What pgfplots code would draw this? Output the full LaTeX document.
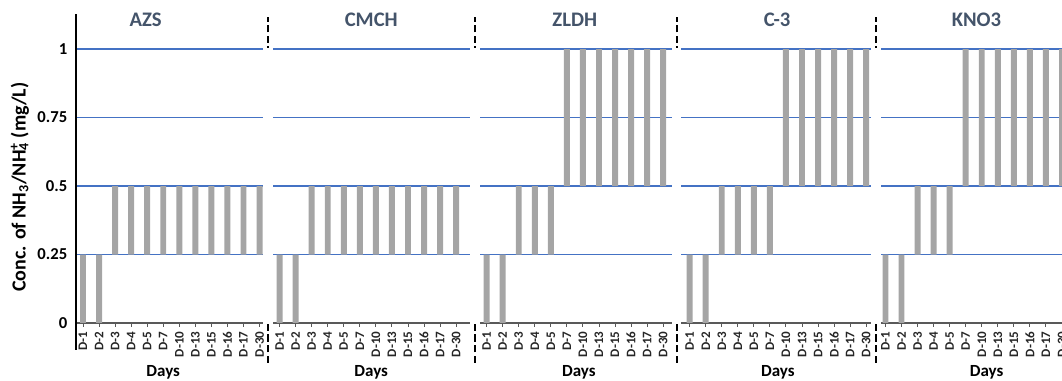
\documentclass[border=0pt]{standalone}
\usepackage{pgfplots}
\pgfplotsset{compat=1.18}
\usepackage{pgfplotstable}
\usepackage{fontspec}
\setmainfont{Carlito}
\definecolor{barg}{HTML}{A5A5A5}
\definecolor{gridb}{HTML}{4472C4}
\definecolor{ttl}{HTML}{44546A}
\definecolor{basel}{HTML}{595959}

\pgfplotstableread{
x lo hi
0 0 0.25
1 0 0.25
2 0.25 0.5
3 0.25 0.5
4 0.25 0.5
5 0.25 0.5
6 0.25 0.5
7 0.25 0.5
8 0.25 0.5
9 0.25 0.5
10 0.25 0.5
11 0.25 0.5
12.25 0 0.25
13.25 0 0.25
14.25 0.25 0.5
15.25 0.25 0.5
16.25 0.25 0.5
17.25 0.25 0.5
18.25 0.25 0.5
19.25 0.25 0.5
20.25 0.25 0.5
21.25 0.25 0.5
22.25 0.25 0.5
23.25 0.25 0.5
25.15 0 0.25
26.15 0 0.25
27.15 0.25 0.5
28.15 0.25 0.5
29.15 0.25 0.5
30.15 0.5 1
31.15 0.5 1
32.15 0.5 1
33.15 0.5 1
34.15 0.5 1
35.15 0.5 1
36.15 0.5 1
37.8 0 0.25
38.8 0 0.25
39.8 0.25 0.5
40.8 0.25 0.5
41.8 0.25 0.5
42.8 0.25 0.5
43.8 0.5 1
44.8 0.5 1
45.8 0.5 1
46.8 0.5 1
47.8 0.5 1
48.8 0.5 1
50 0 0.25
51 0 0.25
52 0.25 0.5
53 0.25 0.5
54 0.25 0.5
55 0.5 1
56 0.5 1
57 0.5 1
58 0.5 1
59 0.5 1
60 0.5 1
61 0.5 1
}\datatable

\begin{document}
\begin{tikzpicture}
\useasboundingbox (-57pt,-43.5pt) rectangle (739.5pt,242.25pt);
\begin{axis}[
  scale only axis, width=739.5pt, height=231.75pt,
  at={(0,0)}, anchor=south west,
  xmin=-0.436, xmax=61.0, ymin=0, ymax=1.128,
  ybar stacked, bar width=0.37,
  clip mode=individual,
  axis x line*=bottom, axis y line*=left,
  x axis line style={basel, line width=0.9pt},
  y axis line style={black, line width=1.1pt},
  xtick=data,
  xticklabels={D-1,D-2,D-3,D-4,D-5,D-7,D-10,D-13,D-15,D-16,D-17,D-30,
               D-1,D-2,D-3,D-4,D-5,D-7,D-10,D-13,D-15,D-16,D-17,D-30,
               D-1,D-2,D-3,D-4,D-5,D-7,D-10,D-13,D-15,D-16,D-17,D-30,
               D-1,D-2,D-3,D-4,D-5,D-7,D-10,D-13,D-15,D-16,D-17,D-30,
               D-1,D-2,D-3,D-4,D-5,D-7,D-10,D-13,D-15,D-16,D-17,D-30},
  xticklabel style={rotate=90, anchor=east, font=\bfseries\fontsize{9.8}{10}\selectfont, text=black!85},
  xtick style={basel, line width=0.7pt},
  tick align=outside, major tick length=3pt,
  ytick={0.25,0.5,0.75,1},
  extra y ticks={0}, extra y tick style={grid=none, tick style={draw=none}},
  ytick style={draw=none},
  ymajorgrids, major grid style={draw=gridb, line width=0.9pt},
  yticklabel style={font=\bfseries\fontsize{12.5}{14}\selectfont},
  /pgf/number format/assume math mode=true,
  ylabel={Conc. of NH\textsubscript{3}/NH\rlap{\textsubscript{4}}\textsuperscript{+} (mg/L)},
  ylabel style={font=\bfseries\fontsize{15}{16}\selectfont, at={(axis description cs:-0.057,0.44)}, anchor=center},
]
\addplot[draw=none, fill=none] table[x=x, y=lo]{\datatable};
\addplot[draw=none, fill=barg] table[x=x, y expr=\thisrow{hi}-\thisrow{lo}]{\datatable};

\pgfplotsinvokeforeach{11.53,24.42,37.0,49.41}{
  \draw[white, line width=7pt] (axis cs:#1,-0.005) -- (axis cs:#1,1.005);
  \draw[black, line width=1.5pt, dash pattern=on 5.5pt off 2.5pt] (axis cs:#1,-0.146) -- (axis cs:#1,1.117);
}
\draw[black, line width=1.1pt] (axis cs:-0.436,0) -- (axis cs:-0.436,-0.099);

\node[font=\bfseries\fontsize{15.5}{16}\selectfont, text=ttl] at (axis cs:3.9,1.106) {AZS};
\node[font=\bfseries\fontsize{15.5}{16}\selectfont, text=ttl] at (axis cs:17.96,1.106) {CMCH};
\node[font=\bfseries\fontsize{15.5}{16}\selectfont, text=ttl] at (axis cs:30.64,1.106) {ZLDH};
\node[font=\bfseries\fontsize{15.5}{16}\selectfont, text=ttl] at (axis cs:43.25,1.106) {C-3};
\node[font=\bfseries\fontsize{15.5}{16}\selectfont, text=ttl] at (axis cs:55.67,1.106) {KNO3};

\node[font=\bfseries\fontsize{12.75}{14}\selectfont] at (axis cs:5.0,-0.179) {Days};
\node[font=\bfseries\fontsize{12.75}{14}\selectfont] at (axis cs:17.96,-0.179) {Days};
\node[font=\bfseries\fontsize{12.75}{14}\selectfont] at (axis cs:30.9,-0.179) {Days};
\node[font=\bfseries\fontsize{12.75}{14}\selectfont] at (axis cs:43.3,-0.179) {Days};
\node[font=\bfseries\fontsize{12.75}{14}\selectfont] at (axis cs:56.3,-0.179) {Days};
\end{axis}
\end{tikzpicture}
\end{document}
